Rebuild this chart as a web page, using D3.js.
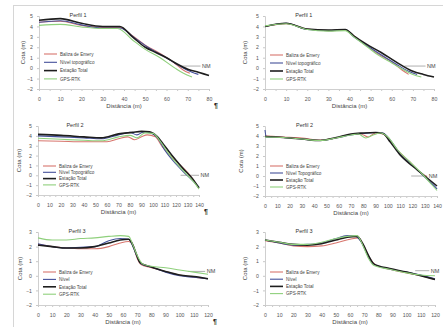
<!DOCTYPE html>
<html>
<head>
<meta charset="utf-8">
<script src="https://cdn.jsdelivr.net/npm/d3@7"></script>
<style>
  body { margin: 0; background: #fff; }
  svg { display: block; font-family: "Liberation Sans", Arial, sans-serif; }
</style>
</head>
<body>
<div id="chart"></div>
<script>
// series names
const seriesNames1 = ["Baliza de Emery", "Nível topográfico", "Estação Total", "GPS-RTK"];
const seriesNames2 = ["Baliza de Emery", "Nível Topográfico", "Estação Total", "GPS-RTK"];
const seriesNames3 = ["Baliza de Emery", "Nível", "Estação Total", "GPS-RTK"];

const titles = ["Perfil 1", "Perfil 1", "Perfil 2", "Perfil 2", "Perfil 3", "Perfil 3"];

// x tick values
const xTicks1 = [0, 10, 20, 30, 40, 50, 60, 70, 80];
const xTicks2 = [0, 10, 20, 30, 40, 50, 60, 70, 80, 90, 100, 110, 120, 130, 140];
const xTicks3 = [0, 10, 20, 30, 40, 50, 60, 70, 80, 90, 100, 110, 120];
// y tick values
const yTicks1 = [-2, -1, 0, 1, 2, 3, 4, 5];
const yTicks3 = [-2, -1, 0, 1, 2, 3];

const nmLevel = [0.2, 0.2, 0, 0, 0.3, 0.35];

// [distance, cota] per series -- Perfil 1 left
const p1aEmery = [[0,4.4],[10,4.5],[20,4.1],[30,3.9],[38,3.9],[44,3.1],[50,2.2],[57,1.4],[63,0.6],[68,-0.2],[71,-0.5]];
const p1aNivel = [[0,4.4],[10,4.55],[20,4.15],[30,3.85],[38,3.85],[45,2.9],[52,1.9],[60,1.0],[67,0.1],[72,-0.4],[75,-0.6]];
const p1aEstacao = [[0,4.6],[10,4.75],[20,4.3],[30,4.0],[38,4.0],[44,3.0],[50,2.0],[55,1.5],[60,1.0],[65,0.4],[70,-0.1],[75,-0.4],[80,-0.7]];
const p1aGps = [[0,4.1],[10,4.2],[20,3.95],[30,3.8],[37,3.8],[44,2.7],[50,1.8],[57,1.0],[64,0.0],[68,-0.5],[72,-0.85]];
// Perfil 1 right
const p1bEmery = [[0,4.0],[10,4.25],[20,3.75],[30,3.6],[38,3.65],[42,3.1],[47,2.3],[54,1.3],[60,0.6],[65,-0.2],[68,-0.6]];
const p1bNivel = [[0,4.0],[10,4.3],[20,3.7],[30,3.6],[38,3.7],[42,3.0],[48,2.2],[54,1.4],[62,0.4],[68,-0.3],[72,-0.6]];
const p1bEstacao = [[0,4.0],[10,4.3],[20,3.75],[30,3.65],[38,3.7],[42,3.1],[48,2.3],[55,1.5],[62,0.6],[70,-0.3],[75,-0.6],[80,-0.85]];
const p1bGps = [[0,4.05],[10,4.25],[20,3.7],[30,3.55],[38,3.6],[42,3.0],[48,2.1],[54,1.2],[60,0.5],[66,-0.2],[70,-0.6],[74,-0.85]];
// Perfil 2 left
const p2aEmery = [[0,3.5],[20,3.45],[40,3.4],[60,3.4],[70,3.7],[78,3.9],[84,3.6],[90,3.9],[95,4.1],[102,3.9],[108,2.9],[115,2.0],[122,1.2],[130,0.3],[136,-0.6]];
const p2aNivel = [[0,4.0],[20,3.9],[40,3.8],[55,3.7],[70,4.1],[80,4.35],[86,4.1],[92,4.4],[98,4.3],[104,3.8],[110,2.6],[118,1.4],[126,0.4],[134,-0.5],[140,-1.2]];
const p2aEstacao = [[0,4.15],[20,4.05],[40,3.9],[55,3.8],[70,4.2],[82,4.35],[90,4.45],[97,4.4],[103,4.0],[110,3.0],[118,1.8],[126,0.7],[134,-0.3],[140,-1.3]];
const p2aGps = [[0,3.75],[20,3.65],[40,3.55],[55,3.5],[70,3.9],[80,4.05],[86,3.8],[93,4.3],[100,4.25],[106,3.5],[113,2.3],[122,1.0],[130,0.0],[137,-0.9],[140,-1.4]];
// Perfil 2 right
const p2bEmery = [[0,4.0],[15,3.9],[30,3.8],[45,3.6],[58,3.8],[70,4.15],[78,4.2],[84,3.9],[90,4.3],[96,4.2],[102,3.5],[110,2.3],[118,1.4],[126,0.4],[132,-0.1]];
const p2bNivel = [[0,4.6],[1,3.9],[15,3.85],[30,3.7],[45,3.55],[58,3.8],[70,4.1],[80,4.25],[90,4.35],[96,4.3],[102,3.6],[110,2.2],[120,1.1],[130,-0.1],[137,-0.9],[140,-1.3]];
const p2bEstacao = [[0,3.95],[15,3.85],[30,3.7],[45,3.55],[58,3.85],[70,4.2],[80,4.3],[90,4.35],[96,4.25],[102,3.4],[110,2.1],[120,1.0],[130,0.0],[140,-1.0]];
const p2bGps = [[0,3.9],[15,3.85],[30,3.7],[45,3.55],[58,3.8],[70,4.1],[76,4.2],[82,3.8],[88,4.1],[94,4.3],[100,3.9],[108,2.6],[118,1.4],[128,0.2],[136,-0.9],[140,-1.45]];
// Perfil 3 left
const p3aEmery = [[0,2.15],[10,2.0],[20,1.9],[30,1.85],[40,1.85],[50,2.0],[58,2.25],[64,2.35],[67,2.1],[70,1.2],[73,0.75],[80,0.55],[90,0.3],[100,0.05],[110,-0.1],[120,-0.2]];
const p3aNivel = [[0,2.2],[10,2.0],[20,1.9],[30,1.95],[40,2.0],[50,2.4],[58,2.55],[64,2.5],[67,2.0],[70,1.3],[73,0.8],[80,0.6],[90,0.25],[100,0.0],[110,-0.1],[120,-0.2]];
const p3aEstacao = [[0,2.1],[10,2.0],[20,1.9],[30,1.9],[40,2.0],[50,2.25],[58,2.45],[64,2.5],[66,2.3],[69,1.6],[72,0.9],[80,0.6],[90,0.3],[100,0.05],[110,-0.05],[120,-0.2]];
const p3aGps = [[0,2.6],[10,2.45],[20,2.45],[30,2.55],[40,2.6],[50,2.7],[58,2.75],[64,2.7],[67,2.1],[70,1.4],[74,0.8],[80,0.65],[90,0.55],[100,0.4],[110,0.25],[120,0.1]];
// Perfil 3 right
const p3bEmery = [[0,2.4],[10,2.25],[20,2.05],[30,2.0],[40,2.05],[50,2.25],[60,2.5],[66,2.6],[70,2.0],[74,1.2],[78,0.75],[88,0.45],[100,0.2],[110,0.0],[120,-0.25]];
const p3bNivel = [[0,2.45],[10,2.25],[20,2.1],[30,2.15],[40,2.25],[50,2.55],[58,2.75],[64,2.7],[68,2.3],[72,1.5],[76,0.85],[86,0.5],[100,0.25],[110,0.05],[120,-0.2]];
const p3bEstacao = [[0,2.45],[10,2.3],[20,2.15],[30,2.1],[40,2.2],[50,2.45],[58,2.65],[65,2.7],[69,2.2],[73,1.4],[77,0.8],[88,0.5],[100,0.25],[110,0.0],[120,-0.25]];
const p3bGps = [[0,2.45],[10,2.3],[20,2.15],[30,2.15],[40,2.3],[50,2.55],[58,2.7],[65,2.75],[69,2.1],[73,1.2],[77,0.7],[88,0.45],[100,0.2],[110,0.05],[120,0.0]];

const colors = ["#d8766e", "#44509a", "#1e1e1e", "#8fd07c"];
const widths = [1.1, 1.1, 1.6, 1.1];

const width = 443, height = 327;

// panel layout (pixels)
const panels = [
  { x0: 39, x1: 209, y0: 16, y1: 89, names: seriesNames1, xt: xTicks1, yt: yTicks1, series: [p1aEmery, p1aNivel, p1aEstacao, p1aGps], nmX: [66, 76], legY: 54, legDy: 8.3, cotaX: 25 },
  { x0: 265, x1: 434, y0: 16, y1: 89, names: seriesNames1, xt: xTicks1, yt: yTicks1, series: [p1bEmery, p1bNivel, p1bEstacao, p1bGps], nmX: [66, 76], legY: 55, legDy: 8, cotaX: 247 },
  { x0: 38, x1: 199, y0: 126, y1: 195, names: seriesNames2, xt: xTicks2, yt: yTicks1, series: [p2aEmery, p2aNivel, p2aEstacao, p2aGps], nmX: [124, 140], legY: 166, legDy: 6.3, cotaX: 21 },
  { x0: 265, x1: 437, y0: 126, y1: 196, names: seriesNames2, xt: xTicks2, yt: yTicks1, series: [p2bEmery, p2bNivel, p2bEstacao, p2bGps], nmX: [119, 132], legY: 166, legDy: 7, cotaX: 243 },
  { x0: 38, x1: 208, y0: 232, y1: 305, names: seriesNames3, xt: xTicks3, yt: yTicks3, series: [p3aEmery, p3aNivel, p3aEstacao, p3aGps], nmX: [106, 118], legY: 272, legDy: 7.4, cotaX: 22 },
  { x0: 265, x1: 435, y0: 232, y1: 305, names: seriesNames3, xt: xTicks3, yt: yTicks3, series: [p3bEmery, p3bNivel, p3bEstacao, p3bGps], nmX: [106, 116], legY: 272, legDy: 7.2, cotaX: 247 }
];

const svg = d3.select("#chart").append("svg")
  .attr("width", width)
  .attr("height", height);

// page frame
svg.append("line").attr("x1", 13).attr("x2", width).attr("y1", 5.5).attr("y2", 5.5)
  .attr("stroke", "#d6d6d6").attr("stroke-width", 1);
svg.append("line").attr("x1", 13.5).attr("x2", 13.5).attr("y1", 5).attr("y2", height)
  .attr("stroke", "#d6d6d6").attr("stroke-width", 1);

panels.forEach((p, i) => {
  const xDomain = d3.extent(p.xt);
  const yDomain = d3.extent(p.yt);
  const x = d3.scaleLinear().domain(xDomain).range([p.x0, p.x1]);
  const y = d3.scaleLinear().domain(yDomain).range([p.y1, p.y0]);
  const g = svg.append("g");

  // y axis
  g.append("g")
    .attr("transform", `translate(${p.x0},0)`)
    .call(d3.axisLeft(y).tickValues(p.yt).tickSize(2).tickPadding(4).tickFormat(d3.format("d")));
  // x axis with minor ticks
  const step = p.xt[1] - p.xt[0];
  const minor = d3.range(xDomain[0], xDomain[1] + 0.01, step / 2);
  g.append("g")
    .attr("transform", `translate(0,${p.y1})`)
    .call(d3.axisBottom(x).tickValues(minor).tickSize(2).tickFormat(""));
  g.append("g")
    .attr("transform", `translate(0,${p.y1})`)
    .call(d3.axisBottom(x).tickValues(p.xt).tickSize(0).tickPadding(8).tickFormat(d3.format("d")));
  g.selectAll(".domain").attr("stroke", "#cfcfcf");
  g.selectAll(".tick line").attr("stroke", "#c8c8c8");
  g.selectAll(".tick text").attr("font-size", 5.2).attr("fill", "#555");

  // mean sea level
  g.append("line")
    .attr("x1", x(p.nmX[0])).attr("x2", x(p.nmX[1]))
    .attr("y1", y(nmLevel[i])).attr("y2", y(nmLevel[i]))
    .attr("stroke", "#9a9a9a").attr("stroke-width", 0.8);
  g.append("text")
    .attr("x", x(p.nmX[1]) + 1.5).attr("y", y(nmLevel[i]) + 2)
    .attr("font-size", 5.5).attr("fill", "#444").text("NM");

  // profiles
  const line = d3.line()
    .x(d => x(d[0]))
    .y(d => y(d[1]))
    .curve(d3.curveMonotoneX);
  p.series.forEach((s, k) => {
    g.append("path")
      .datum(s)
      .attr("fill", "none")
      .attr("stroke", colors[k])
      .attr("stroke-width", widths[k])
      .attr("stroke-linejoin", "round")
      .attr("d", line);
  });

  // title
  g.append("text")
    .attr("x", x(xDomain[0] + (xDomain[1] - xDomain[0]) * 0.23)).attr("y", p.y0 + 1)
    .attr("text-anchor", "middle").attr("font-size", 5.5).attr("fill", "#333")
    .text(titles[i]);

  // axis titles
  g.append("text")
    .attr("transform", `translate(${p.cotaX},${(p.y0 + p.y1) / 2}) rotate(-90)`)
    .attr("text-anchor", "middle").attr("font-size", 6).attr("fill", "#444")
    .text("Cota (m)");
  g.append("text")
    .attr("x", (p.x0 + p.x1) / 2).attr("y", p.y1 + 19)
    .attr("text-anchor", "middle").attr("font-size", 6).attr("fill", "#444")
    .text("Distância (m)");

  // legend
  const leg = g.append("g").attr("transform", `translate(${p.x0 + 5},${p.legY})`);
  p.names.forEach((n, k) => {
    leg.append("line")
      .attr("x1", 0).attr("x2", 13)
      .attr("y1", k * p.legDy).attr("y2", k * p.legDy)
      .attr("stroke", colors[k]).attr("stroke-width", widths[k]);
    leg.append("text")
      .attr("x", 16).attr("y", k * p.legDy + 1.8)
      .attr("font-size", 4.6).attr("fill", "#444")
      .text(n);
  });

  // paragraph mark (left column only)
  if (i % 2 === 0) {
    g.append("text")
      .attr("x", p.x1 + 5).attr("y", p.y1 + 19)
      .attr("font-size", 7).attr("font-weight", "bold").attr("fill", "#222")
      .text("¶");
  }
});
</script>
</body>
</html>
